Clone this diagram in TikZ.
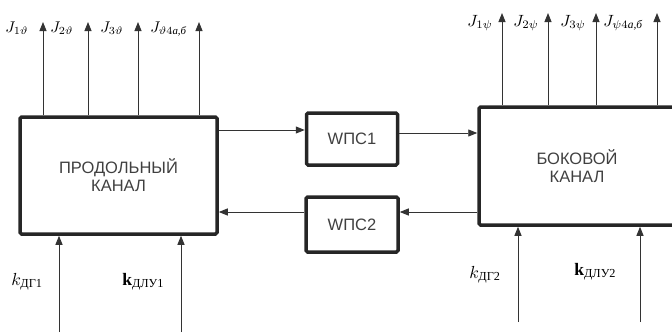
\documentclass[tikz,border=0pt]{standalone}
\usepackage{amsmath}
\usepackage{fontspec}
\setmainfont{Liberation Serif}
\newfontfamily\blocksf{Liberation Sans}
\usetikzlibrary{arrows.meta}

\begin{document}
\begin{tikzpicture}[x=1pt,y=-1pt]
					\tikzstyle{every node}+=[inner sep=0pt]
					\tikzstyle{blk}=[draw=black!85, line width=3.5pt, rounded corners=1.5pt, align=center, text=black!75, font=\blocksf\fontsize{16.5}{18}\selectfont]
					\tikzstyle{sig}=[draw=black!80, line width=0.9pt, -{Triangle[length=9pt,width=7pt]}]
					\tikzstyle{jlab}=[anchor=base west, scale=1.55, transform shape]
					\tikzstyle{klab}=[anchor=base west, scale=1.75, transform shape]
					\useasboundingbox (0,0) rectangle (672,332);
					\node [blk, minimum width=197pt, minimum height=117pt] (prod) at (118.5,175.5) {ПРОДОЛЬНЫЙ\\КАНАЛ};
					\node [blk, minimum width=196pt, minimum height=118pt] (bok) at (577,166) {БОКОВОЙ\\КАНАЛ};
					\node [blk, minimum width=91pt, minimum height=52pt] (w1) at (352,139) {WПС1};
					\node [blk, minimum width=92pt, minimum height=55pt] (w2) at (352,224.5) {WПС2};
					\draw [sig] (prod.east |- 0,130) -- (w1.west |- 0,130);
					\draw [sig] (w1.east |- 0,133) -- (bok.west |- 0,133);
					\draw [sig] (bok.west |- 0,212) -- (w2.east |- 0,212);
					\draw [sig] (w2.west |- 0,212) -- (prod.east |- 0,212);
					\coordinate (jp1) at (43,22);
					\coordinate (jp2) at (88,22);
					\coordinate (jp3) at (138,22);
					\coordinate (jp4) at (199,22);
					\draw [sig] (prod.north -| jp1) -- (jp1);
					\draw [sig] (prod.north -| jp2) -- (jp2);
					\draw [sig] (prod.north -| jp3) -- (jp3);
					\draw [sig] (prod.north -| jp4) -- (jp4);
					\node [jlab] (lj1) at (5,32) {$J_{1\vartheta}$};
					\node [jlab] (lj2) at (50,32) {$J_{2\vartheta}$};
					\node [jlab] (lj3) at (100,32) {$J_{3\vartheta}$};
					\node [jlab] (lj4) at (150,32) {$J_{\vartheta 4\text{\itshape а,б}}$};
					\coordinate (jb1) at (502,13);
					\coordinate (jb2) at (548,13);
					\coordinate (jb3) at (596,13);
					\coordinate (jb4) at (657,13);
					\draw [sig] (bok.north -| jb1) -- (jb1);
					\draw [sig] (bok.north -| jb2) -- (jb2);
					\draw [sig] (bok.north -| jb3) -- (jb3);
					\draw [sig] (bok.north -| jb4) -- (jb4);
					\node [jlab, scale=1.05] (rj1) at (467,26) {$J_{1\psi}$};
					\node [jlab, scale=1.05] (rj2) at (513,26) {$J_{2\psi}$};
					\node [jlab, scale=1.05] (rj3) at (560,26) {$J_{3\psi}$};
					\node [jlab, scale=1.05] (rj4) at (603,26) {$J_{\psi 4\text{\itshape а,б}}$};
					\coordinate (kp1) at (59,332);
					\coordinate (kp2) at (181,332);
					\coordinate (kb1) at (518,322);
					\coordinate (kb2) at (640,322);
					\draw [sig] (kp1) -- (prod.south -| kp1);
					\draw [sig] (kp2) -- (prod.south -| kp2);
					\draw [sig] (kb1) -- (bok.south -| kb1);
					\draw [sig] (kb2) -- (bok.south -| kb2);
					\node [klab] (lk1) at (11,285) {$k_{\text{ДГ1}}$};
					\node [klab] (lk2) at (122,285) {$\mathbf{k}_{\text{ДЛУ1}}$};
					\node [klab] (rk1) at (469,278) {$k_{\text{ДГ2}}$};
					\node [klab] (rk2) at (574,275) {$\mathbf{k}_{\text{ДЛУ2}}$};
				\end{tikzpicture}
\end{document}
